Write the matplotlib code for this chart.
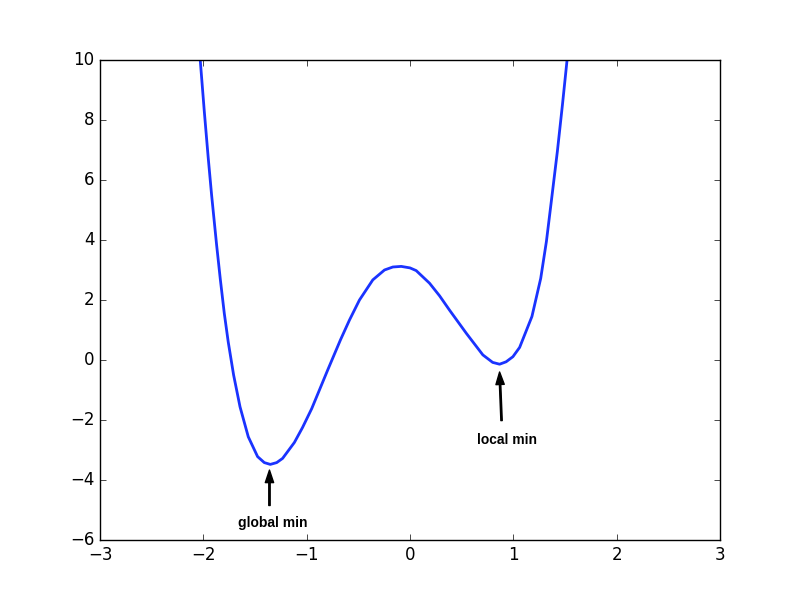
import matplotlib
matplotlib.use('Agg')
import matplotlib.pyplot as plt

# точки кривой
x_vals = [-2.045, -2.03, -1.991, -1.953, -1.92, -1.872, -1.836, -1.797, -1.759,
          -1.707, -1.645, -1.565, -1.475, -1.41, -1.352, -1.29, -1.233, -1.119,
          -1.04, -0.951, -0.796, -0.673, -0.586, -0.489, -0.36, -0.247, -0.166,
          -0.085, 0.0, 0.06, 0.189, 0.286, 0.383, 0.545, 0.705, 0.80, 0.867,
          0.93, 0.996, 1.061, 1.18, 1.265, 1.32, 1.368, 1.426, 1.475, 1.52, 1.535]
y_vals = [10.6, 10.0, 8.3, 6.75, 5.5, 3.85, 2.7, 1.55, 0.6,
          -0.5, -1.56, -2.56, -3.22, -3.42, -3.48, -3.42, -3.28, -2.75,
          -2.25, -1.62, -0.33, 0.67, 1.33, 2.0, 2.67, 3.0, 3.10,
          3.12, 3.07, 2.98, 2.56, 2.14, 1.66, 0.89, 0.17, -0.08, -0.14,
          -0.06, 0.11, 0.42, 1.45, 2.72, 3.95, 5.3, 6.95, 8.5, 10.0, 10.6]

# подписи и стрелки
labels = ['global min', 'local min']
arrow_tips = [(-1.36, -3.67), (0.867, -0.40)]
arrow_tails = [(-1.36, -4.85), (0.886, -2.02)]
label_pos = [(-1.33, -5.43), (0.935, -2.67)]

plt.style.use('classic')
fig, ax = plt.subplots(figsize=(8, 6), dpi=100)
fig.patch.set_facecolor('white')
ax.plot(x_vals, y_vals, color='#1a33ff', linewidth=2)

for lab, tip, tail, pos in zip(labels, arrow_tips, arrow_tails, label_pos):
    ax.annotate('', xy=tip, xytext=tail,
                arrowprops=dict(facecolor='black', edgecolor='black',
                                width=1, headwidth=6, headlength=9, shrink=0.0))
    ax.text(pos[0], pos[1], lab, ha='center', va='center',
            fontsize=10, fontweight='bold', family='Liberation Sans')

ax.set_xlim(-3, 3)
ax.set_ylim(-6, 10)

fig.savefig('out.png', dpi=100, facecolor='white')
